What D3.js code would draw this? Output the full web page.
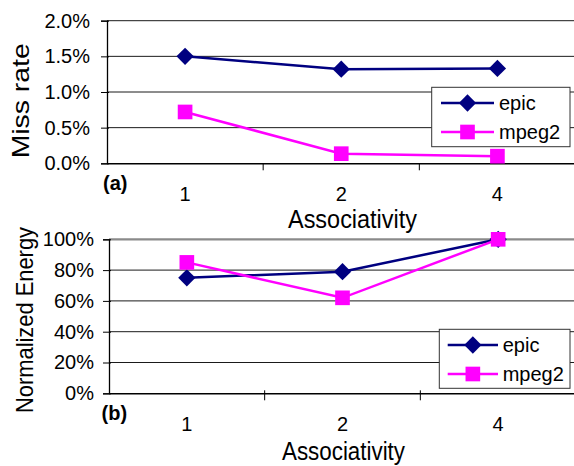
<!DOCTYPE html>
<html>
<head>
<meta charset="utf-8">
<script src="https://cdn.jsdelivr.net/npm/d3@7"></script>
<style>
  html, body { margin: 0; padding: 0; background: #fff; }
  svg { display: block; font-family: "Liberation Sans", Arial, sans-serif; }
</style>
</head>
<body>
<svg id="chart" width="574" height="466"></svg>
<script>
// ---- data ----
const categories = ["1", "2", "4"];
const seriesNames = ["epic", "mpeg2"];
const missEpic = [0.0150, 0.0132, 0.0133];
const missMpeg2 = [0.0072, 0.00135, 0.0010];
const energyEpic = [0.75, 0.79, 1.00];
const energyMpeg2 = [0.85, 0.62, 1.00];
const missTicks = [0, 0.005, 0.010, 0.015, 0.020];
const energyTicks = [0, 0.2, 0.4, 0.6, 0.8, 1.0];
const xTitle = "Associativity";

const colors = { epic: "#000080", mpeg2: "#FF00FF" };
const svg = d3.select("#chart");

function panel(cfg) {
  const g = svg.append("g");
  const x = d3.scaleBand().domain(categories).range([cfg.left, cfg.right]);
  const y = d3.scaleLinear().domain(cfg.domain).range([cfg.bottom, cfg.top]);

  // gridlines
  g.append("g").selectAll("line").data(cfg.ticks.filter(t => t > 0))
    .join("line")
    .attr("x1", cfg.left).attr("x2", cfg.right)
    .attr("y1", d => y(d)).attr("y2", d => y(d))
    .attr("stroke", d => (cfg.grayTop && d === cfg.domain[1]) ? "#8a8a8a" : "#1a1a1a")
    .attr("stroke-width", d => (cfg.grayTop && d === cfg.domain[1]) ? 2.2 : 1);

  // y axis
  const ya = g.append("g").attr("transform", `translate(${cfg.left},0)`)
    .call(d3.axisLeft(y).tickValues(cfg.ticks).tickFormat(cfg.fmt).tickSize(6).tickPadding(cfg.yPad));
  ya.select(".domain").attr("stroke", "#000").attr("stroke-width", 1.3);
  ya.selectAll(".tick line").attr("stroke", "#000").attr("x2", -6).attr("x1", 2);
  ya.selectAll(".tick text").attr("font-size", 20).attr("fill", "#000")
    .attr("font-family", "Liberation Sans, Arial, sans-serif");

  // x axis
  const xa = g.append("g").attr("transform", `translate(0,${cfg.bottom})`)
    .call(d3.axisBottom(x).tickSize(0).tickPadding(0).tickSizeOuter(0));
  xa.select(".domain").attr("stroke", "#000").attr("stroke-width", 1.5);
  xa.selectAll(".tick line").remove();
  xa.selectAll(".tick text").attr("font-size", 20).attr("fill", "#000")
    .attr("font-family", "Liberation Sans, Arial, sans-serif")
    .attr("dy", null).attr("y", cfg.xLabelDy);
  // category boundary ticks
  const bounds = categories.slice(1).map(c => x(c));
  g.append("g").selectAll("line").data(bounds).join("line")
    .attr("x1", d => d).attr("x2", d => d)
    .attr("y1", cfg.bottom - cfg.xTickUp).attr("y2", cfg.bottom + 7)
    .attr("stroke", "#000").attr("stroke-width", 1);

  const cx = c => x(c) + x.bandwidth() / 2;
  const lineGen = d3.line().x((d, i) => cx(categories[i])).y(d => y(d));

  cfg.series.forEach(s => {
    g.append("path").datum(s.values)
      .attr("d", lineGen).attr("fill", "none")
      .attr("stroke", colors[s.name]).attr("stroke-width", 2.5);
  });
  cfg.series.forEach(s => {
    const sym = s.name === "epic"
      ? d3.symbol().type(d3.symbolDiamond2).size(190)
      : d3.symbol().type(d3.symbolSquare).size(215);
    g.append("g").selectAll("path").data(s.values).join("path")
      .attr("d", sym)
      .attr("transform", (d, i) => `translate(${cx(categories[i])},${y(d)})`)
      .attr("fill", colors[s.name]);
  });

  // axis titles
  g.append("text").attr("x", cfg.xTitleX).attr("y", cfg.xTitleY)
    .attr("text-anchor", "middle").attr("font-size", 25)
    .attr("textLength", cfg.xTitleLen).attr("lengthAdjust", "spacingAndGlyphs")
    .text(xTitle);
  g.append("text")
    .attr("transform", `translate(${cfg.yTitleX},${cfg.yTitleY}) rotate(-90)`)
    .attr("text-anchor", "middle").attr("font-size", 24)
    .attr("textLength", cfg.yTitleLen).attr("lengthAdjust", "spacingAndGlyphs")
    .text(cfg.yTitle);
  g.append("text").attr("x", cfg.tagX).attr("y", cfg.tagY)
    .attr("font-size", 20).attr("font-weight", "bold").text(cfg.tag);

  // legend
  const L = cfg.legend;
  g.append("rect").attr("x", L.x).attr("y", L.y).attr("width", L.w).attr("height", L.h)
    .attr("fill", "#fff").attr("stroke", "#333").attr("stroke-width", 1);
  cfg.series.forEach((s, i) => {
    const ly = L.rows[i];
    g.append("line").attr("x1", L.lx1).attr("x2", L.lx2).attr("y1", ly).attr("y2", ly)
      .attr("stroke", colors[s.name]).attr("stroke-width", 2.5);
    const sym = s.name === "epic"
      ? d3.symbol().type(d3.symbolDiamond2).size(190)
      : d3.symbol().type(d3.symbolSquare).size(215);
    g.append("path").attr("d", sym)
      .attr("transform", `translate(${(L.lx1 + L.lx2) / 2},${ly})`)
      .attr("fill", colors[s.name]);
    g.append("text").attr("x", L.tx).attr("y", ly + 7)
      .attr("font-size", 20).attr("fill", "#000").text(s.name);
  });
}

const pct1 = d3.format(".1%");
const pct0 = d3.format(".0%");

panel({
  left: 107, right: 575.5, top: 20.7, bottom: 163.3,
  domain: [0, 0.02], ticks: missTicks, fmt: pct1, yPad: 11,
  xLabelDy: 38, xTickUp: 0, grayTop: false,
  series: [{ name: seriesNames[0], values: missEpic }, { name: seriesNames[1], values: missMpeg2 }],
  xTitleX: 352.5, xTitleY: 228, xTitleLen: 129,
  yTitleX: 29, yTitleY: 100.8, yTitleLen: 115, yTitle: "Miss rate",
  tag: "(a)", tagX: 103, tagY: 190,
  legend: { x: 431.7, y: 87.3, w: 138.3, h: 59.4, rows: [103, 132], lx1: 441, lx2: 494, tx: 499 }
});

panel({
  left: 109, right: 576, top: 239.3, bottom: 393.3,
  domain: [0, 1], ticks: energyTicks, fmt: pct0, yPad: 9,
  xLabelDy: 38, xTickUp: 3, grayTop: true,
  series: [{ name: seriesNames[0], values: energyEpic }, { name: seriesNames[1], values: energyMpeg2 }],
  xTitleX: 343.5, xTitleY: 460, xTitleLen: 123,
  yTitleX: 33, yTitleY: 320, yTitleLen: 186, yTitle: "Normalized Energy",
  tag: "(b)", tagX: 101.5, tagY: 420,
  legend: { x: 439.3, y: 329.3, w: 130.7, h: 59, rows: [345, 374], lx1: 447.7, lx2: 498, tx: 502.7 }
});
</script>
</body>
</html>
